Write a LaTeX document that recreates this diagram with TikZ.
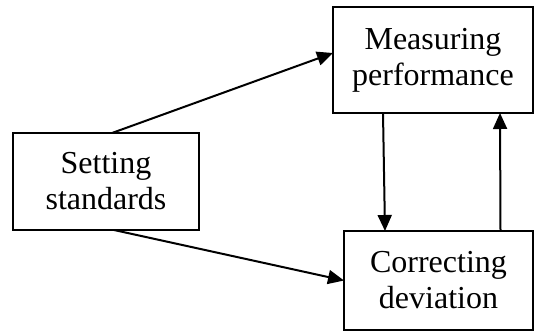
\documentclass[tikz,border=0pt]{standalone}
\usepackage{fontspec}
\setmainfont{Liberation Serif}
\usetikzlibrary{arrows.meta,calc}
\begin{document}
\begin{tikzpicture}[x=1pt,y=-1pt,
  stagebox/.style={draw,line width=2pt,inner sep=0pt,outer sep=0pt,
    align=center,font=\fontsize{32}{36}\selectfont},
  flow/.style={line width=2pt,-{Triangle[length=16pt,width=14pt]}}]
\useasboundingbox (0,0) rectangle (535,333);
% the three stages of the control process
\node[stagebox,minimum width=186pt,minimum height=97pt] (set) at (106,181.5) {Setting\\standards};
\node[stagebox,minimum width=200pt,minimum height=106pt] (meas) at (433,60) {Measuring\\performance};
\node[stagebox,minimum width=189pt,minimum height=99pt] (corr) at (438.5,280.5) {Correcting\\deviation};
% links between the stages
\draw[flow] ($(set.north west)+(99,0)$) -- ($(meas.west)+(0,-7)$);
\draw[flow] ($(set.south west)+(101,0)$) -- (corr.west);
\draw[flow] ($(meas.south west)+(50,0)$) -- ($(corr.north west)+(41,0)$);
\draw[flow] ($(corr.north west)+(156.5,0)$) -- ($(meas.south west)+(167,0)$);
\end{tikzpicture}
\end{document}
